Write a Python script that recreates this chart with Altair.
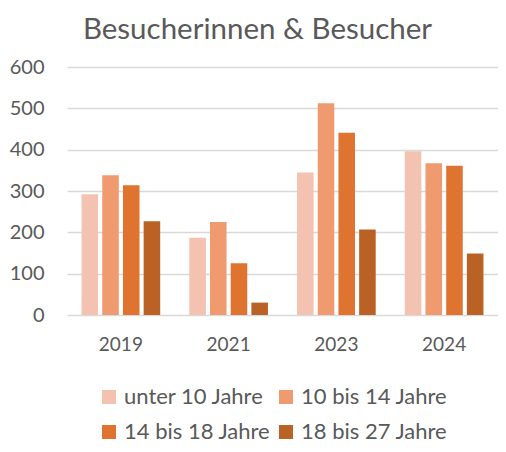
import altair as alt
import pandas as pd

years = ["2019", "2021", "2023", "2024"]
groups = ["unter 10 Jahre", "10 bis 14 Jahre", "14 bis 18 Jahre", "18 bis 27 Jahre"]
unter_10 = [292, 187, 345, 396]
von_10_bis_14 = [338, 225, 512, 367]
von_14_bis_18 = [314, 125, 441, 361]
von_18_bis_27 = [227, 30, 207, 149]
colors = ["#F4C2B0", "#F09A6F", "#DE742F", "#BA6225"]
y_ticks = [0, 100, 200, 300, 400, 500, 600]

series = [unter_10, von_10_bis_14, von_14_bis_18, von_18_bis_27]
rows = []
for g, vals in zip(groups, series):
    for y, v in zip(years, vals):
        rows.append({"year": y, "group": g, "value": v})
df = pd.DataFrame(rows)

FONT = "Lato"
TXT = "#595959"

chart = alt.Chart(df).mark_bar().encode(
    x=alt.X("year:N", sort=years,
            scale=alt.Scale(paddingInner=0.27, paddingOuter=0.135),
            axis=alt.Axis(title=None, labelAngle=0, domain=False, ticks=False,
                          labelPadding=20, labelFontSize=19, labelColor=TXT,
                          labelFont=FONT, labelBaseline="top")),
    xOffset=alt.XOffset("group:N", sort=groups, scale=alt.Scale(paddingInner=0.2)),
    y=alt.Y("value:Q", scale=alt.Scale(domain=[0, 600], nice=False),
            axis=alt.Axis(title=None, values=y_ticks, domain=False, ticks=False,
                          gridColor="#D9D9D9", gridWidth=1.3, labelPadding=23,
                          labelFontSize=20, labelColor=TXT, labelFont=FONT)),
    color=alt.Color("group:N", sort=groups,
                    scale=alt.Scale(domain=groups, range=colors),
                    legend=alt.Legend(title=None, orient="none", legendX=31, legendY=319,
                                      columns=2, direction="horizontal",
                                      symbolType="square", symbolSize=196,
                                      symbolStrokeWidth=0, symbolOpacity=1,
                                      labelFontSize=22, labelColor=TXT, labelFont=FONT,
                                      columnPadding=4, rowPadding=13, labelOffset=4)),
).properties(
    width=431, height=248,
    title=alt.TitleParams("Besucherinnen & Besucher", fontSize=29.5, font=FONT,
                          color=TXT, fontWeight="normal", anchor="middle",
                          offset=12, dx=-25),
    autosize=alt.AutoSizeParams(type="none"),
    padding={"left": 59, "top": 59, "right": 0, "bottom": 129},
).configure_view(stroke=None)

chart.save("out.html", embed_options={"renderer": "svg", "actions": False})
